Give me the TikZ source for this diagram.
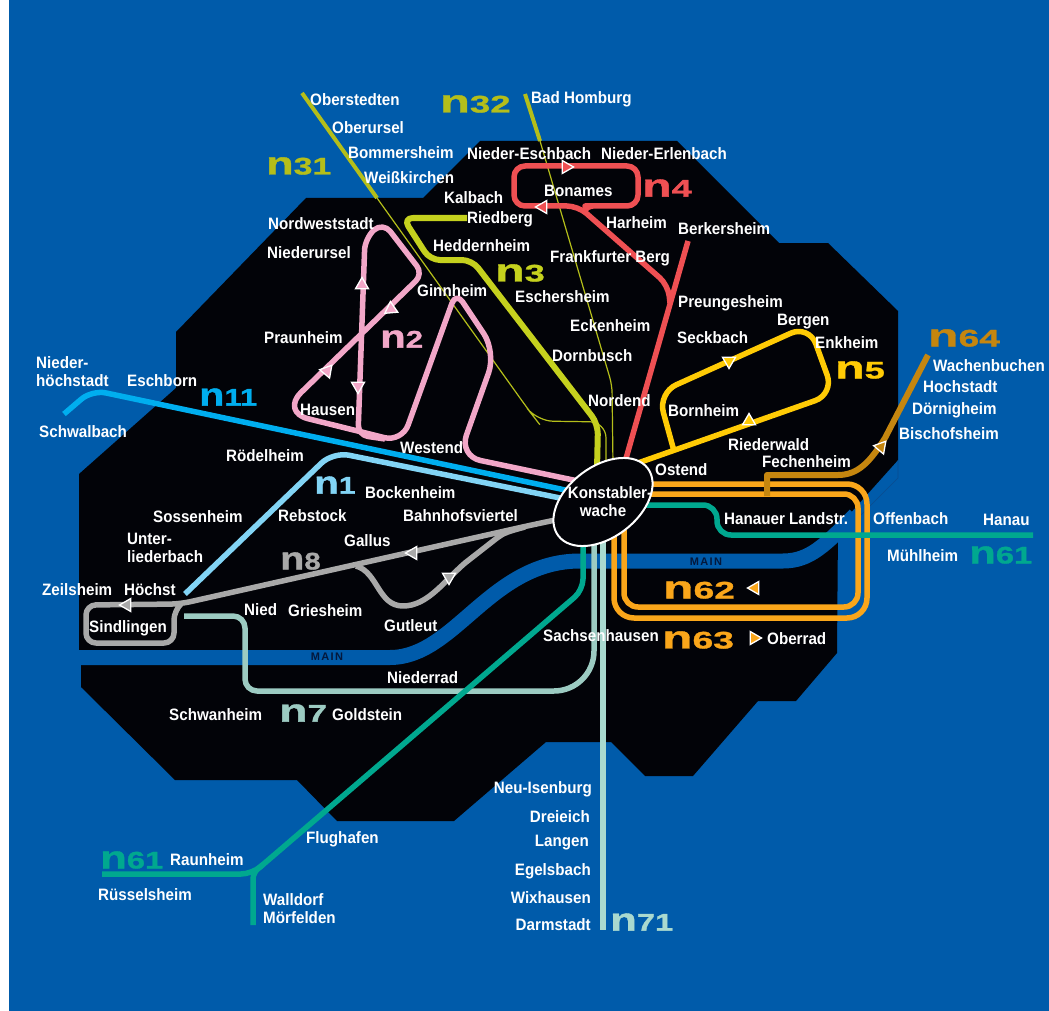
\documentclass[tikz,border=0pt]{standalone}
\usepackage{fontspec}
\usetikzlibrary{shapes.geometric}
\newfontfamily\labfont[FakeStretch=0.92]{Liberation Sans Bold}
\newfontfamily\widefont[FakeStretch=1.45,FakeBold=1.2]{Liberation Sans Bold}
\newfontfamily\rivfont[LetterSpace=12]{Liberation Sans Bold}
\definecolor{bgblue}{HTML}{005BAA}
\definecolor{edgeblue}{HTML}{0A4C8E}
\definecolor{city}{HTML}{020308}
\definecolor{cNeleven}{HTML}{00AEEF}
\definecolor{cNone}{HTML}{82D4F5}
\definecolor{cNtwo}{HTML}{F2A7C8}
\definecolor{cNthree}{HTML}{C5D11E}
\definecolor{cNolive}{HTML}{B4BE1A}
\definecolor{cNfour}{HTML}{EF5053}
\definecolor{cNfive}{HTML}{FFCB05}
\definecolor{cNorange}{HTML}{FAA61A}
\definecolor{cNbrown}{HTML}{C5860F}
\definecolor{cNgreen}{HTML}{00A88F}
\definecolor{cNseven}{HTML}{9CCBC2}
\definecolor{cNsvone}{HTML}{A9D9CF}
\definecolor{cNeight}{HTML}{A9A9A9}
\definecolor{rivtext}{HTML}{04183C}
\tikzset{
  route/.style={line width=5.5pt,line cap=butt,line join=round,draw=#1},
  thinroute/.style={line width=1.2pt,draw=cNolive},
  lab/.style={text=white,inner sep=0pt,anchor=west,font=\labfont\fontsize{16.5}{17}\selectfont,align=left},
  labr/.style={lab,anchor=east,align=right},
  dirtri/.style={regular polygon,regular polygon sides=3,draw=white,line width=1.3pt,inner sep=0pt,minimum size=15pt},
  linename/.style={inner sep=0pt,anchor=west},
  rivlab/.style={text=rivtext,inner sep=0pt,font=\rivfont\fontsize{11}{11}\selectfont},
  station/.style={ellipse,draw=white,fill=city,line width=2pt,minimum width=112pt,minimum height=71pt,inner sep=0pt,rotate=37}
}
\newcommand{\lineno}[6]{\node[linename,text=#2] (#1) at (#3-2,#4) {\scalebox{#6}[1]{\widefont{\fontsize{32}{32}\selectfont n}{\fontsize{24}{24}\selectfont #5}}};}
\newcommand{\tri}[5]{\node[dirtri,fill=#4,shape border rotate=#5] (#1) at (#2,#3) {};}
\begin{document}
\begin{tikzpicture}[x=1pt,y=-1pt]
\useasboundingbox (0,0) rectangle (1049,1011);
\fill[white] (0,0) rectangle (1049,1011);
\fill[bgblue] (9,0) rectangle (1049,1011);
% city
\fill[city] (423,198)--(306,198)--(176,332)--(176,388)--(79,474)--(79,650)--(81,650)--(81,687)--(175,780)--(297,780)--(337,821)--(454,821)--(546,742)--(611,742)--(645,776)--(693,776)--(758,701)--(796,701)--(837,653)--(838,527)--(898,460)--(898,311)--(828,243)--(779,243)--(677,141)--(480,141)--cycle;
\draw[edgeblue,line width=0.6pt] (898,460)--(898,478)--(860,516);
% river
\draw[bgblue,line width=15pt] (70,657.5)--(390,657.5) .. controls (455,657.5) and (490,561) .. (580,561) -- (783,561) .. controls (810,561) and (825,545) .. (855,515);
% free ends
\coordinate (a11) at (64,414);   \coordinate (k11) at (570,491);
\coordinate (a1) at (185,594);   \coordinate (k1) at (570,500);
\coordinate (k2) at (578,481);
\coordinate (a3) at (467,218);   \coordinate (k3) at (597,470);
\coordinate (a31) at (302,93);   \coordinate (m31) at (377,198); \coordinate (k31) at (606,465);
\coordinate (a32) at (525,94);   \coordinate (m32) at (540,141); \coordinate (k32) at (613,465);
\coordinate (a4) at (688,241);   \coordinate (k4) at (625,462);
\coordinate (k5) at (638,463);
\coordinate (a64) at (928,355);  \coordinate (b64) at (767,496);
\coordinate (ka) at (640,484);   \coordinate (kb) at (614,530);
\coordinate (kc) at (640,494);   \coordinate (kd) at (624,530);
\coordinate (a61) at (1033,535); \coordinate (k61) at (640,505);
\coordinate (b61) at (583,540);  \coordinate (c61) at (102,874); \coordinate (d61) at (253,925);
\coordinate (a7) at (184,616);   \coordinate (k7) at (594,540);
\coordinate (a71) at (603,930);  \coordinate (k71) at (603,540);
\coordinate (k8) at (560,519);
% n61 lower, n7, n71
\draw[route=cNseven,rounded corners=12pt] (a7) -- (245,616) -- (245,691) [rounded corners=40pt] -- (594,691) -- (k7);
\draw[route=cNgreen,rounded corners=11pt] (b61) -- (583,590) -- (252,874) -- (c61);
\draw[route=cNgreen,rounded corners=6pt] (263,864.5) -- (253,873) -- (d61);
\draw[route=cNsvone] (k71) -- (a71);
% thin n31,n32
\draw[route=cNolive,line width=4pt] (a31) -- (m31);
\draw[thinroute,rounded corners=16pt] (m31) -- (530,412) -- (537,421) -- (606,422) -- (k31);
\draw[route=cNolive,line width=4pt] (a32) -- (m32);
\draw[thinroute,rounded corners=8pt] (m32) -- (612,385) -- (k32);
% n11 n1
\draw[route=cNeleven,rounded corners=14pt] (a11) -- (92,390) -- (k11);
\draw[route=cNone,rounded corners=16pt] (a1) -- (333,452) -- (k1);
% n2
\draw[route=cNtwo,rounded corners=22pt] (k2) -- (459,456) -- (496,352) [rounded corners=12pt] -- (456,292) [rounded corners=18pt] -- (402,442) [rounded corners=28pt] -- (281,412) [rounded corners=10pt] -- (423,274) [rounded corners=12pt]  -- (383,222) -- (365,238) [rounded corners=10pt] -- (358,435) -- (385,439);
% n3
\draw[route=cNthree,line width=6pt,rounded corners=10pt] (a3) -- (403,218) -- (430,260) -- (472,260) -- (598,424) -- (k3);
% n4
\draw[route=cNfour] (a4) -- (k4);
\draw[route=cNfour,rounded corners=11pt] (670,303) -- (668,285) -- (578,206) -- (514,206) -- (514,166) -- (638,166) -- (638,206) -- (596,206) [rounded corners=6pt] -- (587,206) -- (584,211.5);
% n5
\draw[route=cNfive,rounded corners=20pt] (k5) -- (834,394) -- (809,325) -- (658,393) -- (674,451);
% n62 n63
\draw[route=cNorange,rounded corners=20pt] (ka) -- (867,484) -- (867,618) -- (614,618) -- (kb);
\draw[route=cNorange,rounded corners=14pt] (kc) -- (858,494) -- (858,607) -- (624,607) -- (kd);
% n64
\draw[route=cNbrown,line width=6pt] (a64) -- (885,438) .. controls (870,462) and (858,475) .. (838,475) -- (767,475) -- (b64);
% n61 upper
\draw[route=cNgreen,rounded corners=14pt] (k61) -- (717,505) -- (717,535) -- (a61);
% n8
\draw[route=cNeight,rounded corners=10pt] (k8) -- (527,526) -- (180,604) -- (86,605) -- (86,643) -- (174,643) -- (174,610) -- (182,603);
\draw[route=cNeight] (356,566) .. controls (378,572) and (378,606) .. (403,606) .. controls (428,606) and (445,580) .. (465,563) -- (497,538) .. controls (503,533) and (510,531) .. (525,527);
% hub
\node[station] (K) at (603,502) {};
\node[lab,anchor=center] (Ka) at (610,493) {Konstabler-};
\node[lab,anchor=center] (Kb) at (603,511) {wache};
% direction triangles
\tri{t1}{362}{285}{cNtwo}{0}
\tri{t2}{391}{309}{cNtwo}{5}
\tri{t3}{327}{371}{cNtwo}{-40}
\tri{t4}{358}{386}{cNtwo}{180}
\tri{t5}{566}{167}{cNfour}{-90}
\tri{t6}{543}{207}{cNfour}{90}
\tri{t7}{729}{361}{cNfive}{180}
\tri{t8}{749}{421}{cNfive}{0}
\tri{t9}{413}{553}{cNeight}{90}
\tri{t10}{449}{577}{cNeight}{180}
\tri{t11}{127}{605}{cNeight}{90}
\tri{t12}{755}{588}{cNorange}{90}
\tri{t13}{754}{638}{cNorange}{-90}
\tri{t14}{881}{447}{cNbrown}{-40}
% river names
\node[rivlab] (r1) at (327,657) {MAIN};
\node[rivlab] (r2) at (706,562) {MAIN};
% line names
\lineno{nA}{cNolive}{442}{104}{32}{1.05}
\lineno{nB}{cNolive}{268}{166}{31}{0.97}
\lineno{nC}{cNfour}{644}{188}{4}{1.04}
\lineno{nD}{cNthree}{497}{273}{3}{1.04}
\lineno{nE}{cNtwo}{382}{339}{2}{0.9}
\lineno{nF}{cNfive}{837}{370}{5}{1.04}
\lineno{nG}{cNbrown}{930}{338}{64}{1.07}
\lineno{nH}{cNeleven}{201}{397}{11}{0.89}
\lineno{nI}{cNone}{316}{485}{1}{0.87}
\lineno{nJ}{cNeight}{282}{561}{8}{0.85}
\lineno{nK}{cNorange}{665}{590}{62}{1.07}
\lineno{nL}{cNorange}{664}{640}{63}{1.07}
\lineno{nM}{cNseven}{281}{713}{7}{1}
\lineno{nN}{cNgreen}{971}{555}{61}{0.94}
\lineno{nO}{cNgreen}{102}{860}{61}{0.94}
\lineno{nP}{cNsvone}{612}{922}{71}{0.94}
% station labels
\node[lab] (s1) at (310,100) {Oberstedten};
\node[lab] (s2) at (332,128) {Oberursel};
\node[lab] (s3) at (348,153) {Bommersheim};
\node[lab] (s4) at (364,178) {Weißkirchen};
\node[lab] (s5) at (531,99) {Bad Homburg};
\node[lab] (s6) at (467,154) {Nieder-Eschbach};
\node[lab] (s7) at (601,154) {Nieder-Erlenbach};
\node[lab] (s8) at (544,191) {Bonames};
\node[lab] (s9) at (444,198) {Kalbach};
\node[lab] (s10) at (467,219) {Riedberg};
\node[lab] (s11) at (606,223) {Harheim};
\node[lab] (s12) at (678,229) {Berkersheim};
\node[lab] (s13) at (268,224) {Nordweststadt};
\node[lab] (s14) at (267,253) {Niederursel};
\node[lab] (s15) at (433,246) {Heddernheim};
\node[lab] (s16) at (550,258) {Frankfurter Berg};
\node[lab] (s17) at (417,291) {Ginnheim};
\node[lab] (s18) at (515,297) {Eschersheim};
\node[lab] (s19) at (678,303) {Preungesheim};
\node[lab] (s20) at (570,326) {Eckenheim};
\node[lab] (s21) at (264,338) {Praunheim};
\node[lab] (s22) at (677,338) {Seckbach};
\node[lab] (s23) at (777,322) {Bergen};
\node[lab] (s24) at (815,343) {Enkheim};
\node[lab] (s25) at (552,356) {Dornbusch};
\node[lab] (s26) at (588,401) {Nordend};
\node[lab] (s27) at (668,411) {Bornheim};
\node[lab] (s28) at (300,410) {Hausen};
\node[lab] (s29) at (728,445) {Riederwald};
\node[lab] (s30) at (400,448) {Westend};
\node[lab] (s31) at (762,462) {Fechenheim};
\node[lab] (s32) at (655,470) {Ostend};
\node[lab] (s33) at (226,456) {Rödelheim};
\node[lab] (s34) at (933,366) {Wachenbuchen};
\node[lab] (s35) at (923,387) {Hochstadt};
\node[lab] (s36) at (912,410) {Dörnigheim};
\node[lab] (s37) at (899,434) {Bischofsheim};
\node[lab] (s38) at (36,372) {Nieder-\\[1pt]höchstadt};
\node[lab] (s39) at (127,381) {Eschborn};
\node[lab] (s40) at (39,432) {Schwalbach};
\node[lab] (s41) at (365,493) {Bockenheim};
\node[lab] (s42) at (278,516) {Rebstock};
\node[lab] (s43) at (153,517) {Sossenheim};
\node[lab] (s44) at (403,516) {Bahnhofsviertel};
\node[lab] (s45) at (127,548) {Unter-\\[1pt]liederbach};
\node[lab] (s46) at (344,541) {Gallus};
\node[lab] (s47) at (42,590) {Zeilsheim};
\node[lab] (s48) at (124,590) {Höchst};
\node[lab] (s49) at (89,628) {Sindlingen};
\node[lab] (s50) at (244,610) {Nied};
\node[lab] (s51) at (288,611) {Griesheim};
\node[lab] (s52) at (384,626) {Gutleut};
\node[lab] (s53) at (543,636) {Sachsenhausen};
\node[lab] (s54) at (767,639) {Oberrad};
\node[lab] (s55) at (387,678) {Niederrad};
\node[lab] (s56) at (169,715) {Schwanheim};
\node[lab] (s57) at (332,715) {Goldstein};
\node[lab] (s58) at (724,519) {Hanauer Landstr.};
\node[lab] (s59) at (873,519) {Offenbach};
\node[lab] (s60) at (983,520) {Hanau};
\node[lab] (s61) at (887,556) {Mühlheim};
\node[lab] (s62) at (306,839) {Flughafen};
\node[lab] (s63) at (170,860) {Raunheim};
\node[lab] (s64) at (98,895) {Rüsselsheim};
\node[lab] (s65) at (263,909) {Walldorf\\[1pt]Mörfelden};
\node[labr] (s66) at (592,789) {Neu-Isenburg};
\node[labr] (s67) at (590,817) {Dreieich};
\node[labr] (s68) at (589,843) {Langen};
\node[labr] (s69) at (591,871) {Egelsbach};
\node[labr] (s70) at (591,898) {Wixhausen};
\node[labr] (s71) at (591,925) {Darmstadt};
\end{tikzpicture}
\end{document}
